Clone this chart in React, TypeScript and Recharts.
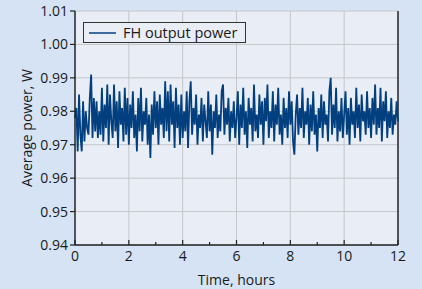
import React from 'react';
import { LineChart, Line, XAxis, YAxis, CartesianGrid, ReferenceLine, Legend } from 'recharts';

const hourTicks = [0, 1, 2, 3, 4, 5, 6, 7, 8, 9, 10, 11, 12];
const gridHours = [2, 4, 6, 8, 10];
const powerTicks = [0.94, 0.95, 0.96, 0.97, 0.98, 0.99, 1.0, 1.01];
const seriesName = 'FH output power';
const stepHours = 0.05;

const power: number[] = [
  0.978, 0.981, 0.968, 0.985, 0.973, 0.968, 0.983, 0.971, 0.980, 0.975, 0.973, 0.984, 0.991, 0.972, 0.984, 0.974, 0.983, 0.972, 0.980, 0.973,
  0.987, 0.971, 0.982, 0.975, 0.988, 0.970, 0.985, 0.977, 0.972, 0.988, 0.974, 0.983, 0.969, 0.986, 0.976, 0.981, 0.971, 0.987, 0.973, 0.984,
  0.970, 0.982, 0.975, 0.986, 0.972, 0.979, 0.968, 0.984, 0.974, 0.987, 0.971, 0.980, 0.976, 0.984, 0.970, 0.979, 0.966, 0.982, 0.973, 0.986,
  0.975, 0.983, 0.970, 0.985, 0.976, 0.981, 0.972, 0.989, 0.974, 0.986, 0.971, 0.988, 0.976, 0.983, 0.969, 0.987, 0.975, 0.982, 0.970, 0.985,
  0.972, 0.980, 0.974, 0.986, 0.969, 0.983, 0.989, 0.973, 0.981, 0.976, 0.985, 0.970, 0.979, 0.975, 0.984, 0.971, 0.982, 0.977, 0.972, 0.986,
  0.974, 0.982, 0.967, 0.980, 0.975, 0.985, 0.972, 0.979, 0.974, 0.986, 0.988, 0.973, 0.981, 0.976, 0.984, 0.971, 0.980, 0.975, 0.983, 0.972,
  0.978, 0.986, 0.970, 0.982, 0.975, 0.987, 0.973, 0.980, 0.969, 0.984, 0.976, 0.981, 0.971, 0.988, 0.974, 0.979, 0.972, 0.985, 0.976, 0.983,
  0.970, 0.984, 0.977, 0.988, 0.972, 0.980, 0.975, 0.986, 0.971, 0.982, 0.976, 0.987, 0.973, 0.979, 0.970, 0.984, 0.975, 0.981, 0.972, 0.986,
  0.976, 0.983, 0.971, 0.967, 0.979, 0.985, 0.973, 0.981, 0.975, 0.987, 0.972, 0.980, 0.976, 0.984, 0.970, 0.982, 0.974, 0.986, 0.973, 0.979,
  0.968, 0.981, 0.975, 0.985, 0.972, 0.983, 0.976, 0.979, 0.971, 0.986, 0.990, 0.973, 0.982, 0.975, 0.987, 0.971, 0.980, 0.974, 0.984, 0.972,
  0.979, 0.986, 0.973, 0.981, 0.970, 0.984, 0.976, 0.980, 0.972, 0.987, 0.975, 0.982, 0.971, 0.985, 0.977, 0.980, 0.973, 0.986, 0.975, 0.981,
  0.972, 0.984, 0.976, 0.988, 0.973, 0.981, 0.975, 0.987, 0.971, 0.983, 0.977, 0.986, 0.972, 0.980, 0.975, 0.984, 0.973, 0.979, 0.976, 0.983,
  0.977,
];

const data = power.map((v, i) => ({ t: +(i * stepHours).toFixed(2), v }));

const FONT = '"Open Sans", "DejaVu Sans", sans-serif';
const TEXT = '#1a1a1a';
const AXIS = '#222222';
const LINE = '#023f7f';

const XTick = (props: any) => {
  const { x, y, payload } = props;
  const major = payload.value % 2 === 0;
  return (
    <g>
      <line x1={x} x2={x} y1={y} y2={y - (major ? 5 : 3)} stroke={AXIS} strokeWidth={1.2} />
      {major && (
        <text x={x} y={y + 16} textAnchor="middle" fontSize={14} fill={TEXT} fontFamily={FONT}>
          {payload.value}
        </text>
      )}
    </g>
  );
};

const LegendBox = () => (
  <div
    style={{
      display: 'flex',
      alignItems: 'center',
      border: '1px solid #333',
      background: '#e9edf5',
      height: 19,
      padding: '0 8px 0 5px',
      fontFamily: FONT,
      fontSize: 14.5,
      color: TEXT,
      whiteSpace: 'nowrap',
    }}
  >
    <svg width={27} height={4} style={{ marginRight: 7 }}>
      <line x1={0} x2={27} y1={2} y2={2} stroke={LINE} strokeWidth={1.5} />
    </svg>
    <span>{seriesName}</span>
  </div>
);

export default function App() {
  return (
    <div style={{ position: 'absolute', left: 0, top: 0, width: 422, height: 289, background: '#d5e3f5' }}>
      <LineChart
        width={422}
        height={289}
        data={data}
        margin={{ top: 11, right: 24, bottom: 0, left: 0 }}
        style={{ fontFamily: FONT }}
      >
        <CartesianGrid vertical={false} stroke="#c4c6c9" fill="#e9edf5" fillOpacity={1} />
        {gridHours.map((h) => (
          <ReferenceLine key={h} x={h} stroke="#c4c6c9" />
        ))}
        <ReferenceLine x={12} stroke={AXIS} strokeWidth={1.5} />
        <XAxis
          dataKey="t"
          type="number"
          domain={[0, 12]}
          ticks={hourTicks}
          interval={0}
          tickSize={0}
          tickMargin={0}
          tickLine={false}
          tick={<XTick />}
          axisLine={{ stroke: AXIS, strokeWidth: 1.5 }}
          height={44}
          label={{ value: 'Time, hours', position: 'insideBottom', offset: 4, fontSize: 14, fill: TEXT }}
        />
        <YAxis
          type="number"
          domain={[0.94, 1.01]}
          ticks={powerTicks}
          interval={0}
          allowDataOverflow
          width={75}
          tickSize={5}
          tickMargin={2}
          tickFormatter={(v: number) => v.toFixed(2)}
          tick={{ fontSize: 14, fill: TEXT }}
          tickLine={{ stroke: AXIS, strokeWidth: 1.2 }}
          axisLine={{ stroke: AXIS, strokeWidth: 1.5 }}
          label={{
            content: () => (
              <text
                x={26}
                y={128}
                transform="rotate(-90 26 128)"
                textAnchor="middle"
                dominantBaseline="central"
                fontSize={14}
                fill={TEXT}
                fontFamily={FONT}
              >
                Average power, W
              </text>
            ),
          }}
        />
        <Legend
          layout="horizontal"
          verticalAlign="middle"
          align="center"
          wrapperStyle={{ left: 83, top: 22, width: 'auto' }}
          content={<LegendBox />}
        />
        <Line
          dataKey="v"
          name={seriesName}
          stroke={LINE}
          strokeWidth={1.8}
          dot={false}
          isAnimationActive={false}
        />
      </LineChart>
    </div>
  );
}
